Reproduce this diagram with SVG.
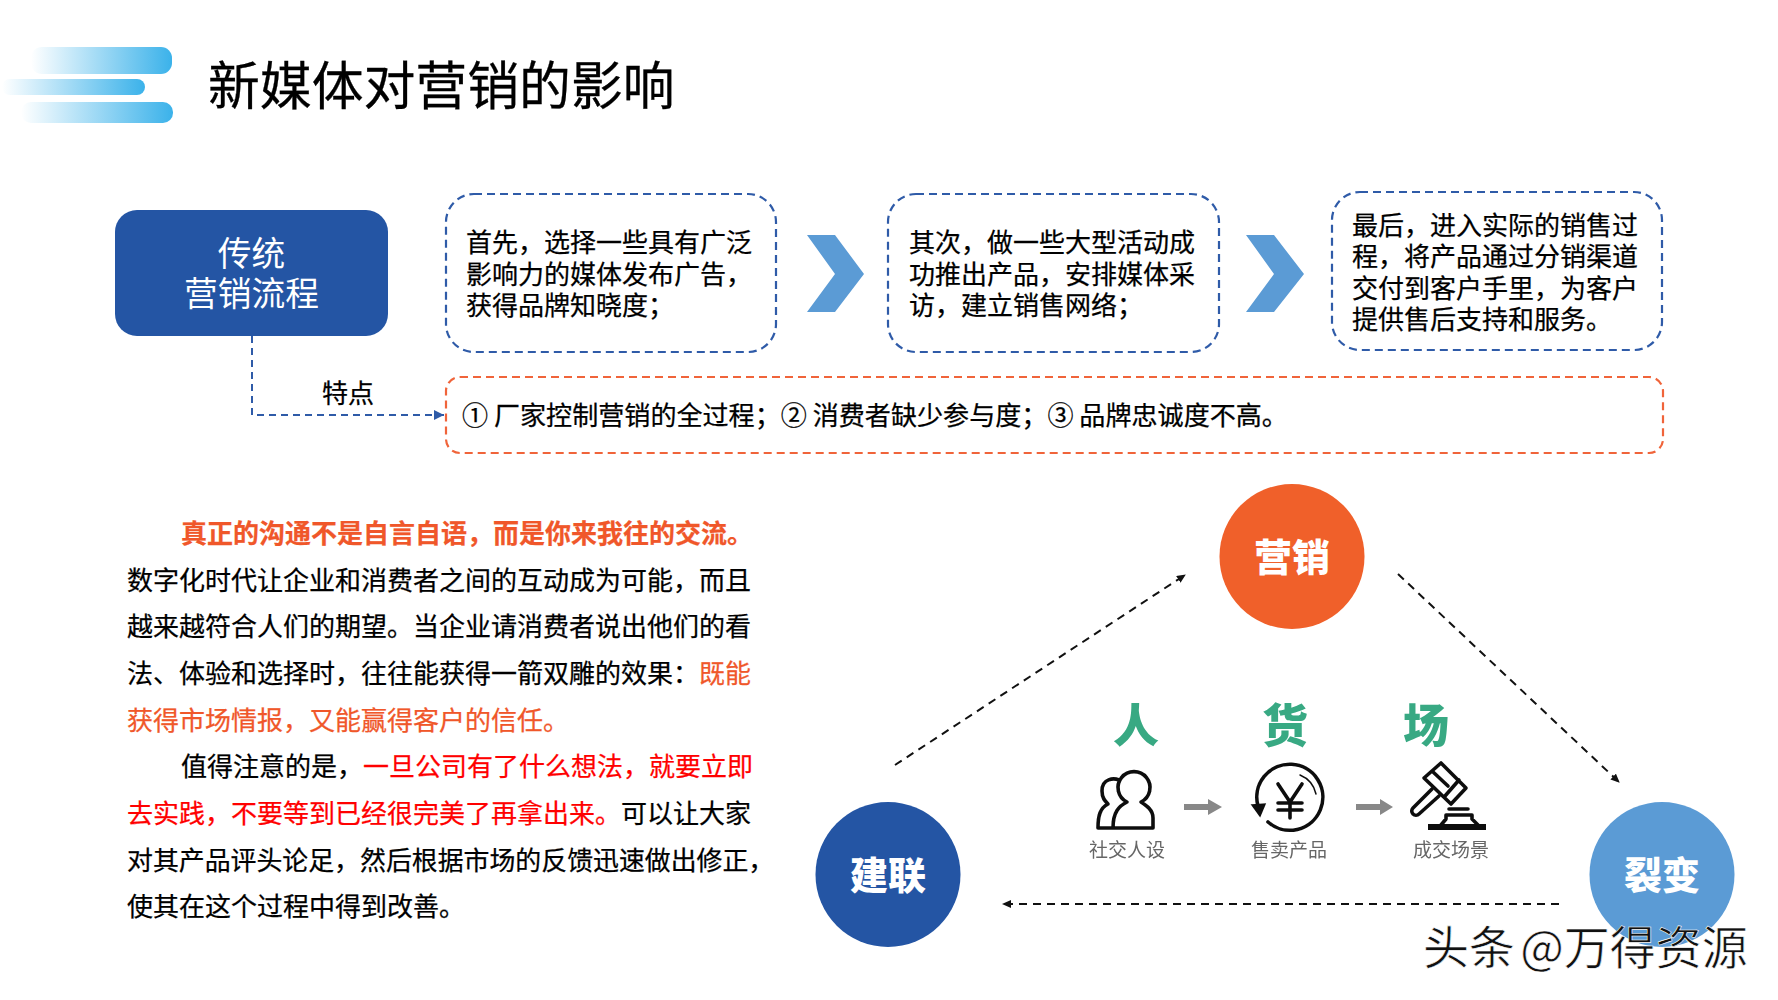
<svg xmlns="http://www.w3.org/2000/svg" width="1778" height="1000" viewBox="0 0 1778 1000">
<style>
text{font-family:"Noto Sans CJK SC","Noto Sans",sans-serif;fill:#000}
.box{fill:#fff;stroke:#2f5ba8;stroke-width:2.2;stroke-dasharray:8 5}
.or{fill:#fff;stroke:#f0643a;stroke-width:2.2;stroke-dasharray:8 5}
.t26{font-size:26px;stroke:#000;stroke-width:.25}
.body{font-size:26px;stroke-width:.25;stroke:currentColor}
.cn{font-size:38px;font-weight:900;fill:#fff;text-anchor:middle}
.grn{font-size:46px;font-weight:900;fill:#38a983;text-anchor:middle}
.lbl{font-size:19px;fill:#666;text-anchor:middle}
.ic{fill:none;stroke:#111;stroke-width:3.6;stroke-linejoin:round;stroke-linecap:round}
.dash{fill:none;stroke:#111;stroke-width:2;stroke-dasharray:8 6}
.chev{fill:#5b9bd5}
</style>
<defs>
<linearGradient id="g" x1="0" x2="1" y1="0" y2="0"><stop offset="0" stop-color="#3bb2ea" stop-opacity="0"/><stop offset="1" stop-color="#3bb2ea"/></linearGradient>
<marker id="ab" markerWidth="10" markerHeight="10" refX="8" refY="4" orient="auto" markerUnits="userSpaceOnUse"><path d="M0 0L9 4L0 8Z" fill="#111"/></marker>
<marker id="ab2" markerWidth="12" markerHeight="12" refX="10" refY="5" orient="auto" markerUnits="userSpaceOnUse"><path d="M0 0L10 5L0 10Z" fill="#2f5ba8"/></marker>
<filter id="soft" x="-10%" y="-10%" width="120%" height="120%"><feGaussianBlur stdDeviation="0.6"/></filter>
</defs>
<rect width="1778" height="1000" fill="#fff"/>
<g id="logo">
<rect x="31" y="47" width="141" height="27" rx="11" fill="url(#g)"/>
<rect x="2" y="79" width="143" height="16" rx="8" fill="url(#g)"/>
<rect x="21" y="102" width="152" height="21" rx="10" fill="url(#g)"/>
</g>
<text id="title" x="208" y="105" font-size="51.85" stroke="#000" stroke-width=".3">新媒体对营销的影响</text>
<g id="connectors">
<path d="M252 336V415H444" fill="none" stroke="#2f5ba8" stroke-width="2" stroke-dasharray="7 5" marker-end="url(#ab2)"/>
<path class="dash" d="M895 765L1185 575" marker-end="url(#ab)"/>
<path class="dash" d="M1398 574L1619 782" marker-end="url(#ab)"/>
<path class="dash" d="M1559 904H1003" marker-end="url(#ab)"/>
</g>
<g id="main"><rect x="115" y="210" width="273" height="126" rx="22" fill="#2455a4"/>
<text font-size="33.7" style="fill:#fff" text-anchor="middle"><tspan x="251.5" y="266">传统</tspan><tspan x="251.5" y="306">营销流程</tspan></text></g>
<g id="box1"><rect class="box" x="446" y="194" width="330" height="158" rx="28"/>
<text class="t26"><tspan x="466" y="252">首先，选择一些具有广泛</tspan><tspan x="466" y="284">影响力的媒体发布广告，</tspan><tspan x="466" y="315">获得品牌知晓度；</tspan></text></g>
<path id="chev1" class="chev" d="M807 235H835L864 274L835 312H807L835 274Z"/>
<g id="box2"><rect class="box" x="888" y="194" width="331" height="158" rx="28"/>
<text class="t26"><tspan x="909" y="252">其次，做一些大型活动成</tspan><tspan x="909" y="284">功推出产品，安排媒体采</tspan><tspan x="909" y="315">访，建立销售网络；</tspan></text></g>
<path id="chev2" class="chev" d="M1246 235H1274L1304 274L1274 312H1246L1274 274Z"/>
<g id="box3"><rect class="box" x="1332" y="192" width="330" height="158" rx="28"/>
<text class="t26"><tspan x="1352" y="235">最后，进入实际的销售过</tspan><tspan x="1352" y="266">程，将产品通过分销渠道</tspan><tspan x="1352" y="298">交付到客户手里，为客户</tspan><tspan x="1352" y="329">提供售后支持和服务。</tspan></text></g>
<text id="tedian" x="348" y="403" font-size="26" text-anchor="middle" stroke="#000" stroke-width=".25">特点</text>
<g id="traits"><rect class="or" x="446" y="377" width="1217" height="76" rx="14"/>
<text class="t26" x="462" y="425" style="font-size:26.08px">① 厂家控制营销的全过程；② 消费者缺少参与度；③ 品牌忠诚度不高。</text></g>
<g id="article">
<text class="body" x="181" y="543" font-weight="700" style="fill:#f0572a;color:#f0572a">真正的沟通不是自言自语，而是你来我往的交流。</text>
<text class="body" x="127" y="590">数字化时代让企业和消费者之间的互动成为可能，而且</text>
<text class="body" x="127" y="636">越来越符合人们的期望。当企业请消费者说出他们的看</text>
<text class="body" x="127" y="683">法、体验和选择时，往往能获得一箭双雕的效果：<tspan style="fill:#f0572a;color:#f0572a">既能</tspan></text>
<text class="body" x="127" y="730" style="fill:#f0572a;color:#f0572a">获得市场情报，又能赢得客户的信任。</text>
<text class="body" x="181" y="776">值得注意的是，<tspan style="fill:#f00;color:#f00">一旦公司有了什么想法，就要立即</tspan></text>
<text class="body" x="127" y="823"><tspan style="fill:#f00;color:#f00">去实践，不要等到已经很完美了再拿出来。</tspan>可以让大家</text>
<text class="body" x="127" y="870" style="font-size:25.9px">对其产品评头论足，然后根据市场的反馈迅速做出修正，</text>
<text class="body" x="127" y="916">使其在这个过程中得到改善。</text>
</g>
<g id="yingxiao"><circle cx="1292" cy="556.5" r="72.5" fill="#f0602a"/><text class="cn" x="1292" y="571">营销</text></g>
<g id="jianlian"><circle cx="888" cy="874.5" r="72.5" fill="#2455a4"/><text class="cn" x="888" y="889">建联</text></g>
<g id="liebian"><circle cx="1662" cy="874.5" r="72.5" fill="#5b9bd5"/><text class="cn" x="1662" y="889">裂变</text></g>
<g id="people" filter="url(#soft)"><text class="grn" x="1136" y="742">人</text>
<path class="ic" d="M1113 828H1153V818C1153 810 1147 806 1141 802A16 16 0 1 0 1127 802C1119 806 1113 812 1113 828M1119 780C1114 778 1102 778 1102 791C1102 798 1105 801 1108 804C1100 808 1098 816 1098 828H1113"/>
<text class="lbl" x="1127" y="857">社交人设</text></g>
<path id="a1" d="M1184 804H1208V799L1222 807L1208 815V810H1184Z" fill="#888" filter="url(#soft)"/>
<g id="goods" filter="url(#soft)"><text class="grn" x="1285" y="742">货</text>
<path class="ic" d="M1268 822A33 33 0 1 0 1258 806"/><path d="M1252 805L1265 804L1260 816Z" fill="#111" stroke="#111" stroke-width="1.5"/>
<path class="ic" d="M1300 775A27 27 0 0 1 1316 794" style="stroke-width:1.5"/>
<path class="ic" d="M1278 784L1290 802L1302 784M1290 802V818M1278 803H1302M1278 810H1302"/>
<text class="lbl" x="1289" y="857">售卖产品</text></g>
<path id="a2" d="M1356 804H1380V799L1393 807L1380 815V810H1356Z" fill="#888" filter="url(#soft)"/>
<g id="place" filter="url(#soft)"><text class="grn" x="1426" y="742">场</text>
<path class="ic" d="M1424 778L1441 763L1466 788L1451 804ZM1432 771L1448 786M1445 796L1459 780"/>
<path class="ic" d="M1432 789L1413 808A4 4 0 0 0 1419 814L1439 796"/>
<path class="ic" d="M1441 825L1446 819V815H1472V819L1478 825M1449 809H1468"/><path d="M1428 824H1486V830H1428Z" fill="#111"/>
<text class="lbl" x="1451" y="857">成交场景</text></g>
<text id="wm" x="1423" y="964" font-size="46" word-spacing="-5" style="fill:#111;stroke:#fff;stroke-width:.6">头条 @万得资源</text>
</svg>
